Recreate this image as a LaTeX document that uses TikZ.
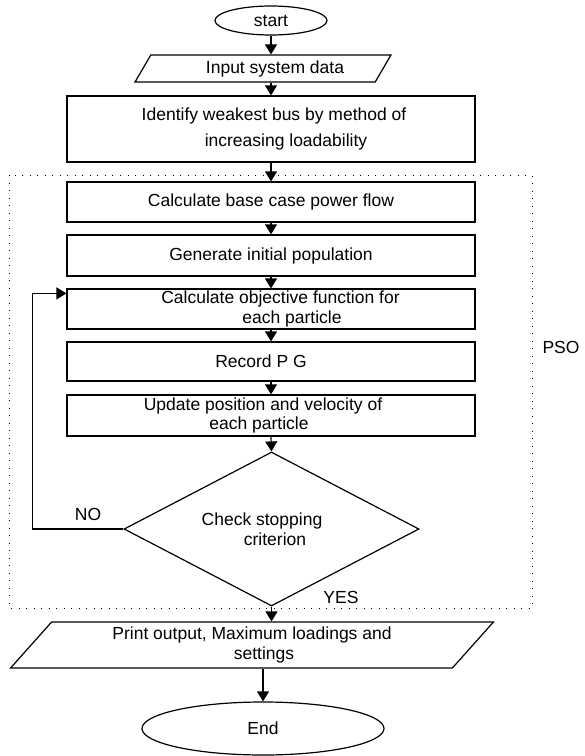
\documentclass[tikz,border=0pt]{standalone}
\usepackage{fontspec}
\setmainfont{Liberation Sans}
\usetikzlibrary{shapes.geometric,arrows.meta,calc}
\begin{document}
\begin{tikzpicture}[x=1pt,y=-1pt,
  font=\fontsize{17.5}{19.5}\selectfont,
  every node/.style={inner sep=1pt},
  box/.style={draw, line width=1.2pt, rectangle, minimum width=408pt, inner sep=0pt, align=center},
  term/.style={draw, line width=1.2pt, ellipse, inner sep=0pt},
  io/.style={draw, line width=1.2pt, trapezium, trapezium stretches=true, inner sep=1pt, align=center},
  dec/.style={draw, line width=1.2pt, diamond, aspect=1.9, minimum width=295pt, minimum height=154pt, inner sep=0pt, align=center},
  arr/.style={line width=1.2pt, -{Triangle[length=10pt,width=12pt]}},
  frame/.style={line width=1pt, dash pattern=on 1pt off 6.5pt}
]
\useasboundingbox (0,0) rectangle (585,756);

% PSO group frame
\draw[frame] (9,175) rectangle (532,608);
\node (pso) at (561,347) {PSO};

% flowchart steps
\node[term, minimum width=112pt, minimum height=29pt] (start) at (271,20.5) {start};
\node[io, trapezium left angle=57.8, trapezium right angle=122.2,
      minimum width=256pt, minimum height=27pt] (input) at (263,68.5)
      {\hspace*{24pt}Input system data};
\node[box, minimum height=66pt] (ident) at (271,129)
      {\hspace*{6pt}Identify weakest bus by method of\\[6pt]\hspace*{30pt}increasing loadability};
\node[box, minimum height=40pt] (base) at (271,202) {Calculate base case power flow};
\node[box, minimum height=41pt] (gen) at (271,255.5) {Generate initial population};
\node[box, minimum height=40pt] (obj) at (271,309)
      {\hspace*{19pt}Calculate objective function for\\\hspace*{42pt}each particle};
\node[box, minimum height=39pt] (rec) at (271,361.5) {Record P G\hspace*{20pt}\null};
\node[box, minimum height=41pt] (upd) at (271,415.5)
      {Update position and velocity of\hspace*{16pt}\null\\each particle\hspace*{24pt}\null};
\node[dec] (chk) at (271.5,529) {Check stopping\hspace*{19pt}\null\\\hspace*{7pt}criterion};
\node[io, trapezium left angle=52.7, trapezium right angle=127.3,
      minimum width=484pt, minimum height=46pt] (out) at (252,645)
      {Print output, Maximum loadings and\\\hspace*{24pt}settings};
\node[term, minimum width=242pt, minimum height=53pt] (end) at (263,728.5) {End};

% connectors
\draw[arr] (start.south) -- (start.south |- input.north);
\draw[arr] (start.south |- input.south) -- (ident.north);
\draw[arr] (ident) -- (base);
\draw[arr] (base) -- (gen);
\draw[arr] (gen) -- (obj);
\draw[arr] (obj) -- (rec);
\draw[arr] (rec) -- (upd);
\draw[arr] (upd.south) -- (chk.north);
\draw[arr] (chk.south) -- (chk.south |- out.north);
\draw[arr] (end.north |- out.south) -- (end.north);
\draw[arr] (chk.west) -- ++(-91,0) |- ($(obj.north west)+(0,5)$);

% branch labels
\node (no) at (88,514) {NO};
\node (yes) at (341,597) {YES};
\end{tikzpicture}
\end{document}
